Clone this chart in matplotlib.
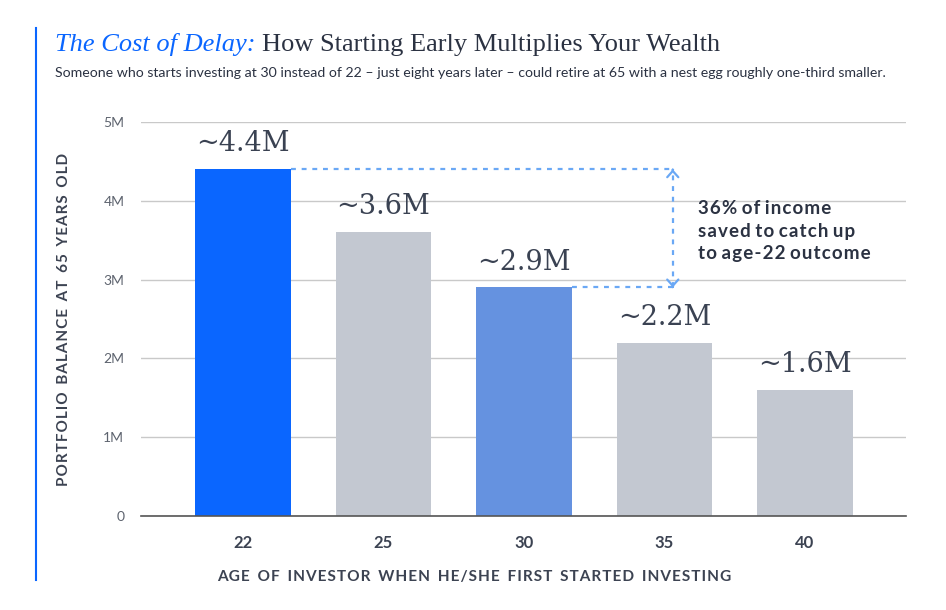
import matplotlib.pyplot as plt
import numpy as np

ages = ["22", "25", "30", "35", "40"]
balance = [4.4, 3.6, 2.9, 2.2, 1.6]   # millions
value_labels = ["~4.4M", "~3.6M", "~2.9M", "~2.2M", "~1.6M"]
yticks = [0, 1, 2, 3, 4, 5]
ytick_labels = ["0", "1M", "2M", "3M", "4M", "5M"]
note = "36% of income\nsaved to catch up\nto age-22 outcome"

bar_colors = ["#0a66ff", "#c3c8d1", "#6592e0", "#c3c8d1", "#c3c8d1"]
dark = "#2b3242"
label_col = "#3c4352"


def spaced(s, gap="\u2002"):
    # fake letter spacing with hair spaces, wider gap between words
    return gap.join("\u200a".join(w) for w in s.split(" "))


fig = plt.figure(figsize=(9.46, 6.10), dpi=100)
ax = fig.add_axes([141/946, 1-516/610, (906-141)/946, (516-122)/610])

x = np.arange(len(ages))
ax.bar(x, balance, width=0.68, color=bar_colors, zorder=3)
ax.set_xlim(-0.725, 4.72)
ax.set_ylim(0, 5)

ax.set_yticks(yticks)
ax.set_yticklabels(ytick_labels, fontsize=10, color="#5d636e", family="Lato")
ax.set_xticks(x)
ax.set_xticklabels(ages, fontsize=12, color=label_col, family="Lato", fontweight="bold")
ax.tick_params(axis="both", length=0)
ax.tick_params(axis="y", pad=12)
ax.tick_params(axis="x", pad=14)
ax.grid(axis="y", color="#c9c9c9", linewidth=1, zorder=0)
for s in ["top", "right", "left"]:
    ax.spines[s].set_visible(False)
ax.spines["bottom"].set_color("#555555")
ax.spines["bottom"].set_linewidth(1.2)
ax.spines["bottom"].set_zorder(4)

for xi, v, lab in zip(x, balance, value_labels):
    ax.text(xi, v + 0.15, lab, ha="center", va="bottom", fontsize=19.5,
            family="DejaVu Serif", color="#3a4252")

ax.set_ylabel(spaced("PORTFOLIO BALANCE AT 65 YEARS OLD"),
              fontsize=11, family="Lato", fontweight="bold", color=label_col, labelpad=23)
fig.text(474/946, 1-577/610, spaced("AGE OF INVESTOR WHEN HE/SHE FIRST STARTED INVESTING"),
         ha="center", va="center", fontsize=11.1, family="Lato", fontweight="bold", color=label_col)

# annotation: dotted guides from bar 22 and bar 30 to the arrow
acol = "#6aa8f5"
dash = (0, (2.2, 2.6))
xa = 3.06
ax.plot([x[0] + 0.34, xa], [balance[0], balance[0]], color=acol, linestyle=dash, lw=1.6, zorder=4)
ax.plot([x[2] + 0.34, xa], [balance[2], balance[2]], color=acol, linestyle=dash, lw=1.6, zorder=4)
ax.plot([xa, xa], [balance[2], balance[0]], color=acol, linestyle=dash, lw=1.6, zorder=4)
for tip, d in [(balance[0], -0.01), (balance[2], 0.01)]:
    ax.annotate("", xy=(xa, tip), xytext=(xa, tip + d),
                arrowprops=dict(arrowstyle="->,head_length=0.45,head_width=0.4", color=acol,
                                lw=1.6, shrinkA=0, shrinkB=0), zorder=4)
ax.text(xa + 0.18, (balance[0] + balance[2]) / 2 - 0.035, "\n".join(spaced(l, " ") for l in note.split("\n")),
        ha="left", va="center", fontsize=13.5, family="Lato", fontweight="bold",
        color=dark, linespacing=1.38)

# title block
fig.add_artist(plt.Line2D([36/946, 36/946], [1-28/610, 1-580/610], color="#0a66ff", lw=1.5))
t1 = fig.text(55/946, 1-51/610, "The Cost of Delay:", fontsize=19, family="Liberation Serif",
              style="italic", color="#0a66ff")
fig.canvas.draw()
bb = t1.get_window_extent()
fig.text((bb.x1 + 6)/946, 1-51/610, "How Starting Early Multiplies Your Wealth",
         fontsize=19, family="Liberation Serif", color=dark)
fig.text(55/946, 1-77/610, "Someone who starts investing at 30 instead of 22 \u2013 just eight years later \u2013 could retire at 65 with a nest egg roughly one-third smaller.",
         fontsize=10.2, family="Lato", color=dark)

fig.savefig("out.png", dpi=100)
